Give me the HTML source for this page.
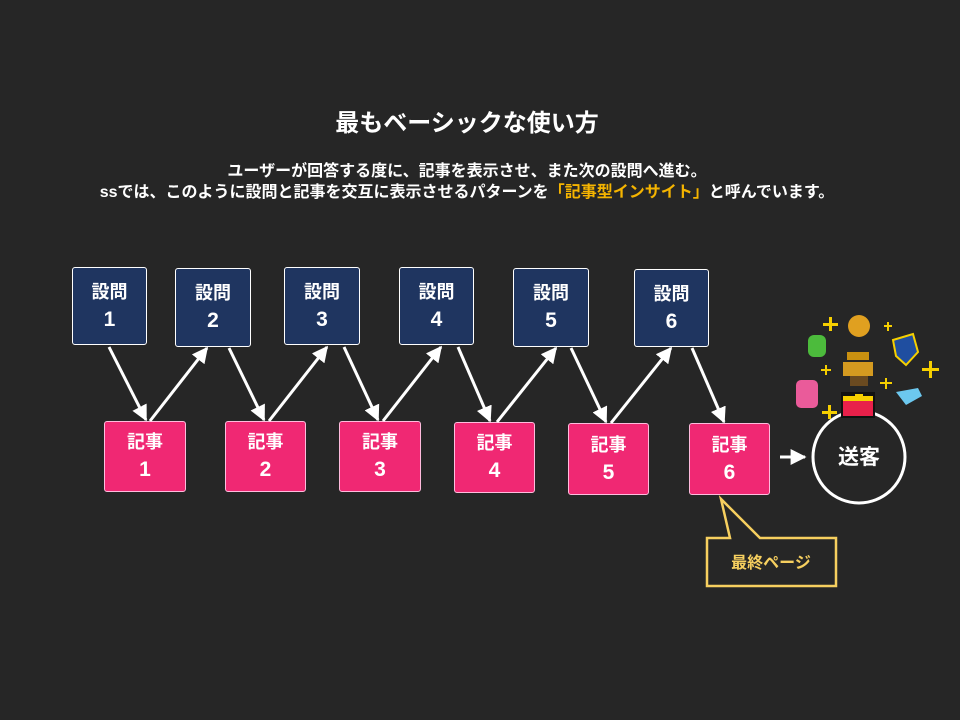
<!DOCTYPE html>
<html><head><meta charset="utf-8"><style>
body{margin:0;width:960px;height:720px;background:#262626;overflow:hidden;font-family:"Liberation Sans","Noto Sans CJK JP",sans-serif;font-weight:bold;color:#fff;position:relative}
.t{position:absolute;left:-13px;width:960px;text-align:center;white-space:nowrap}
.b{position:absolute;box-sizing:border-box;border:1px solid #fff;border-radius:3px;display:flex;flex-direction:column;align-items:center;justify-content:center;font-size:18px;line-height:27px}
.b span{font-size:21px;line-height:28px}
.q{background:#1f3560}.a{background:#f02873;border-color:#fbd}
</style></head><body>
<div class="t" style="top:103px;font-size:24px;">最もベーシックな使い方</div>
<div class="t" style="top:161px;font-size:16px;line-height:21px">ユーザーが回答する度に、記事を表示させ、また次の設問へ進む。<br>ssでは、このように設問と記事を交互に表示させるパターンを<span style="color:#f5b400">「記事型インサイト」</span>と呼んでいます。</div>

<div class="b q" style="left:72px;top:267px;width:75px;height:78px">設問<span>1</span></div>
<div class="b q" style="left:175px;top:268px;width:76px;height:79px">設問<span>2</span></div>
<div class="b q" style="left:284px;top:267px;width:76px;height:78px">設問<span>3</span></div>
<div class="b q" style="left:399px;top:267px;width:75px;height:78px">設問<span>4</span></div>
<div class="b q" style="left:513px;top:268px;width:76px;height:79px">設問<span>5</span></div>
<div class="b q" style="left:634px;top:269px;width:75px;height:78px">設問<span>6</span></div>

<div class="b a" style="left:104px;top:421px;width:82px;height:71px">記事<span>1</span></div>
<div class="b a" style="left:225px;top:421px;width:81px;height:71px">記事<span>2</span></div>
<div class="b a" style="left:339px;top:421px;width:82px;height:71px">記事<span>3</span></div>
<div class="b a" style="left:454px;top:422px;width:81px;height:71px">記事<span>4</span></div>
<div class="b a" style="left:568px;top:423px;width:81px;height:72px">記事<span>5</span></div>
<div class="b a" style="left:689px;top:423px;width:81px;height:72px">記事<span>6</span></div>

<svg width="960" height="720" style="position:absolute;left:0;top:0">
<defs>
<marker id="h" viewBox="0 0 10 10" refX="9" refY="5" markerWidth="16" markerHeight="16" orient="auto" markerUnits="userSpaceOnUse"><path d="M0,0 L10,5 L0,10z" fill="#fff"/></marker></defs>
<g stroke="#fff" stroke-width="3" fill="none" marker-end="url(#h)">
<line x1="109" y1="347" x2="146" y2="420"/>
<line x1="150" y1="421" x2="207" y2="348"/>
<line x1="229" y1="348" x2="264" y2="420"/>
<line x1="269" y1="421" x2="327" y2="347"/>
<line x1="344" y1="347" x2="378" y2="420"/>
<line x1="383" y1="421" x2="441" y2="347"/>
<line x1="458" y1="347" x2="490" y2="421"/>
<line x1="497" y1="422" x2="556" y2="348"/>
<line x1="571" y1="348" x2="606" y2="422"/>
<line x1="611" y1="423" x2="671" y2="348"/>
<line x1="692" y1="348" x2="724" y2="422"/>
<line x1="780" y1="457" x2="805" y2="457"/>
</g>
<circle cx="859" cy="457" r="46" stroke="#fff" stroke-width="3" fill="none"/>
<text x="859" y="464" fill="#fff" font-size="21" text-anchor="middle" font-family="Liberation Sans, Noto Sans CJK JP, sans-serif" font-weight="bold">送客</text>
<path d="M721,499 L730,538 L707,538 L707,586 L836,586 L836,538 L760,538 Z" fill="#262626" stroke="#f6cf5f" stroke-width="2.5"/>
<text x="771" y="568" fill="#f6cf5f" font-size="16" text-anchor="middle" font-family="Liberation Sans, Noto Sans CJK JP, sans-serif" font-weight="bold">最終ページ</text>
<g>
<rect x="841" y="392" width="34" height="26" fill="#111"/><rect x="843" y="396" width="30" height="20" fill="#e8204a"/><rect x="843" y="396" width="30" height="5" fill="#f6cf00"/><rect x="855" y="394" width="8" height="7" fill="#f6cf00"/>
<rect x="847" y="352" width="22" height="8" fill="#c99010"/><rect x="843" y="362" width="30" height="14" fill="#d49a20"/><rect x="850" y="376" width="18" height="10" fill="#6a4a20"/>
<rect x="808" y="335" width="18" height="22" fill="#4cbb3c" rx="6"/>
<circle cx="859" cy="326" r="11" fill="#e0a020"/>
<path d="M893,340 L913,334 L918,352 L906,365 L896,356 Z" fill="#1f4ea0" stroke="#f6d000" stroke-width="2"/>
<rect x="796" y="380" width="22" height="28" fill="#ea5b9a" rx="5"/>
<path d="M896,392 L918,388 L922,396 L906,405 Z" fill="#6cc8ef"/>
<g fill="#f6cf00"><rect x="829" y="317" width="3" height="14"/><rect x="823" y="323" width="15" height="3"/>
<rect x="887" y="322" width="2" height="9"/><rect x="884" y="325" width="8" height="2"/>
<rect x="825" y="365" width="2" height="10"/><rect x="821" y="369" width="10" height="2"/>
<rect x="885" y="378" width="2" height="11"/><rect x="880" y="382" width="12" height="2"/>
<rect x="929" y="361" width="3" height="17"/><rect x="922" y="368" width="17" height="3"/>
<rect x="828" y="405" width="3" height="14"/><rect x="822" y="411" width="15" height="3"/></g>
</g>
</svg>
</body></html>
